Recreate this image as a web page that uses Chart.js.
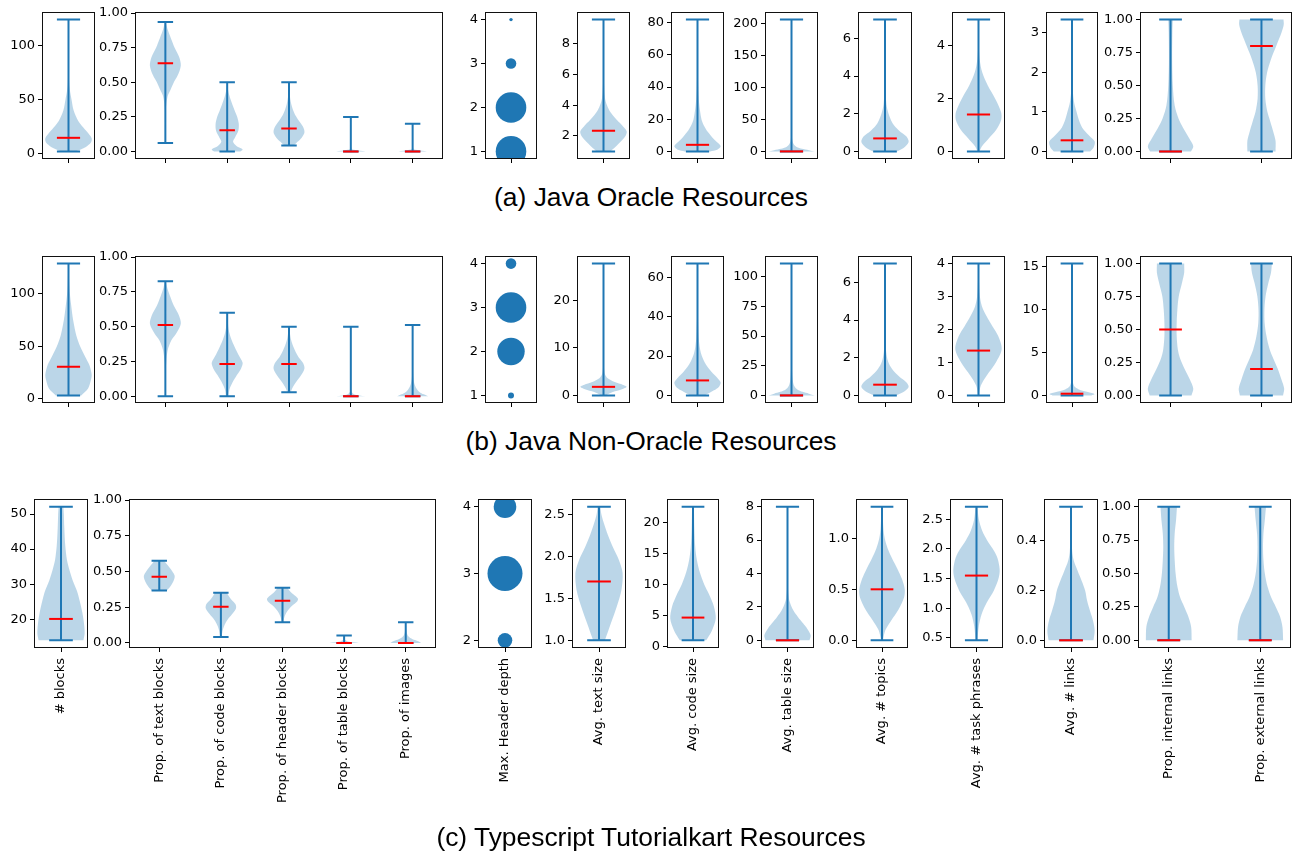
<!DOCTYPE html>
<html><head><meta charset="utf-8">
<script src="https://cdn.jsdelivr.net/npm/chart.js@4.4.1/dist/chart.umd.min.js"></script>
<style>
html,body{margin:0;padding:0;background:#fff;}
body{width:1294px;height:854px;position:relative;overflow:hidden;}
canvas{position:absolute;}
.title{position:absolute;left:4px;width:1294px;text-align:center;font-family:"Liberation Sans",Arial,sans-serif;font-size:26.4px;line-height:26px;color:#000;white-space:nowrap;}
</style></head><body>
<script>
// ---------------- DATA ----------------
const rowTitles = ['(a) Java Oracle Resources', '(b) Java Non-Oracle Resources', '(c) Typescript Tutorialkart Resources'];

const categories = [
  ['# blocks'],
  ['Prop. of text blocks', 'Prop. of code blocks', 'Prop. of header blocks', 'Prop. of table blocks', 'Prop. of images'],
  ['Max. Header depth'],
  ['Avg. text size'],
  ['Avg. code size'],
  ['Avg. table size'],
  ['Avg. # topics'],
  ['Avg. # task phrases'],
  ['Avg. # links'],
  ['Prop. internal links', 'Prop. external links']
];

// violin density profiles: per panel, per violin, [value, relative width] from min to max
const oracleDensity = [
  [[[1.8,0.3],[6,0.75],[10,0.97],[14,1.0],[20,0.8],[25,0.6],[30,0.42],[40,0.22],[50,0.13],[57,0.07],[65,0.03],[80,0.012],[100,0.008],[124,0.005]]],
  [
    [[0.062,0.01],[0.3,0.03],[0.4,0.15],[0.45,0.35],[0.5,0.55],[0.55,0.8],[0.62,1.0],[0.68,0.9],[0.75,0.6],[0.82,0.35],[0.88,0.15],[0.935,0.03]],
    [[0,0.85],[0.015,1.0],[0.04,0.6],[0.07,0.38],[0.1,0.5],[0.15,0.72],[0.2,0.75],[0.25,0.65],[0.3,0.47],[0.35,0.3],[0.4,0.15],[0.45,0.05],[0.5,0.01]],
    [[0.043,0.3],[0.07,0.55],[0.1,0.82],[0.14,1.0],[0.18,0.9],[0.22,0.65],[0.26,0.42],[0.3,0.26],[0.35,0.13],[0.4,0.06],[0.5,0.01]],
    [[0,0.95],[0.005,0.6],[0.012,0.2],[0.02,0.05],[0.05,0.01],[0.25,0.003]],
    [[0,0.92],[0.005,0.6],[0.012,0.2],[0.02,0.05],[0.05,0.01],[0.2,0.003]]
  ],
  null,
  [[[1,0.3],[1.5,0.65],[2,0.95],[2.3,1.0],[2.7,0.8],[3,0.6],[3.5,0.32],[4,0.15],[4.5,0.06],[5.5,0.02],[7,0.01],[9.55,0.005]]],
  [[[0,0.55],[1,0.85],[3,1.0],[5,0.9],[8,0.68],[12,0.45],[16,0.28],[20,0.17],[30,0.07],[40,0.03],[60,0.01],[82,0.005]]],
  [[[0,1.0],[2,0.75],[4,0.45],[7,0.22],[10,0.12],[15,0.05],[25,0.015],[50,0.005],[206,0.002]]],
  [[[0,0.5],[0.2,0.8],[0.5,1.0],[0.8,0.9],[1.1,0.6],[1.5,0.32],[2,0.15],[2.5,0.06],[3.5,0.02],[5,0.01],[7,0.005]]],
  [[[0,0.04],[0.2,0.15],[0.5,0.45],[0.8,0.75],[1.2,0.98],[1.5,0.97],[2,0.72],[2.5,0.4],[3,0.16],[3.5,0.05],[4,0.015],[5,0.005]]],
  [[[0,0.8],[0.1,0.95],[0.25,1.0],[0.4,0.75],[0.6,0.45],[0.8,0.3],[1,0.2],[1.25,0.09],[1.5,0.04],[2,0.015],[3.33,0.005]]],
  [
    [[0,0.9],[0.04,1.0],[0.1,0.82],[0.18,0.55],[0.25,0.35],[0.35,0.18],[0.5,0.1],[0.7,0.07],[0.9,0.08],[1,0.1]],
    [[0,0.62],[0.08,0.62],[0.15,0.52],[0.22,0.4],[0.3,0.26],[0.4,0.17],[0.5,0.17],[0.6,0.25],[0.7,0.42],[0.8,0.65],[0.9,0.88],[0.96,0.98],[1,0.97]]
  ]
];
const oracleMedians = [[14.4],[0.637,0.153,0.167,0,0],null,[2.34],[4.1],[0],[0.69],[1.4],[0.28],[0,0.8]];
const oracleDepthLevels = [1,2,3,4];
const oracleDepthRadius = [15.3,15.3,5.3,1.7];
const oracleYTicks = [['0','50','100'],['0.00','0.25','0.50','0.75','1.00'],['1','2','3','4'],['2','4','6','8'],['0','20','40','60','80'],['0','50','100','150','200'],['0','2','4','6'],['0','2','4'],['0','1','2','3'],['0.00','0.25','0.50','0.75','1.00']];

const nonOracleDensity = [
  [[[3.1,0.55],[10,0.85],[18,0.97],[23,1.0],[32,0.9],[40,0.72],[50,0.5],[60,0.34],[75,0.2],[90,0.11],[100,0.06],[110,0.03],[128.7,0.01]]],
  [
    [[0,0.01],[0.15,0.02],[0.25,0.06],[0.33,0.15],[0.4,0.38],[0.45,0.7],[0.52,1.0],[0.58,0.88],[0.65,0.55],[0.72,0.3],[0.78,0.12],[0.825,0.03]],
    [[0,0.08],[0.05,0.15],[0.1,0.35],[0.15,0.62],[0.2,0.9],[0.24,1.0],[0.3,0.72],[0.35,0.5],[0.4,0.3],[0.45,0.15],[0.5,0.07],[0.6,0.01]],
    [[0.029,0.1],[0.06,0.22],[0.1,0.45],[0.15,0.78],[0.2,1.0],[0.24,0.9],[0.28,0.62],[0.33,0.38],[0.38,0.2],[0.43,0.09],[0.5,0.02]],
    [[0,0.95],[0.006,0.55],[0.015,0.2],[0.03,0.06],[0.06,0.015],[0.5,0.003]],
    [[0,1.0],[0.01,0.8],[0.025,0.5],[0.05,0.28],[0.08,0.14],[0.12,0.06],[0.2,0.02],[0.512,0.005]]
  ],
  null,
  [[[0,0.1],[0.7,0.4],[1.3,0.8],[1.8,1.0],[2.4,0.75],[3,0.4],[3.6,0.18],[4.5,0.06],[6,0.02],[10,0.008],[27.7,0.003]]],
  [[[0,0.3],[2,0.62],[4,0.9],[6.5,1.0],[9,0.85],[12,0.6],[15,0.4],[18,0.26],[21,0.16],[25,0.09],[30,0.05],[40,0.02],[55,0.008],[66.9,0.004]]],
  [[[0,1.0],[1.5,0.75],[3,0.48],[5,0.25],[8,0.12],[12,0.06],[18,0.03],[30,0.01],[111,0.002]]],
  [[[0,0.45],[0.2,0.8],[0.45,1.0],[0.7,0.9],[1,0.6],[1.4,0.3],[1.8,0.13],[2.3,0.05],[3,0.02],[5,0.008],[7,0.004]]],
  [[[0,0.02],[0.3,0.1],[0.6,0.35],[1,0.75],[1.4,1.0],[1.8,0.85],[2.1,0.6],[2.4,0.35],[2.7,0.15],[3,0.06],[3.5,0.02],[4,0.005]]],
  [[[0,0.85],[0.15,1.0],[0.4,0.7],[0.7,0.3],[1,0.12],[1.5,0.04],[2.5,0.015],[5,0.005],[15.3,0.002]]],
  [
    [[0,0.92],[0.05,1.0],[0.12,0.85],[0.2,0.62],[0.28,0.42],[0.35,0.32],[0.45,0.27],[0.55,0.27],[0.65,0.3],[0.75,0.36],[0.85,0.5],[0.93,0.6],[1,0.6]],
    [[0,0.95],[0.05,1.0],[0.12,0.88],[0.2,0.72],[0.28,0.52],[0.35,0.36],[0.45,0.22],[0.55,0.14],[0.65,0.13],[0.75,0.18],[0.85,0.3],[0.93,0.42],[1,0.46]]
  ]
];
const nonOracleMedians = [[30.4],[0.512,0.231,0.231,0,0],null,[1.8],[7.6],[0],[0.57],[1.36],[0.2],[0.5,0.2]];
const nonOracleDepthLevels = [1,2,3,4];
const nonOracleDepthRadius = [3,13.7,15.3,5.3];
const nonOracleYTicks = [['0','50','100'],['0.00','0.25','0.50','0.75','1.00'],['1','2','3','4'],['0','10','20'],['0','20','40','60'],['0','25','50','75','100'],['0','2','4','6'],['0','1','2','3','4'],['0','5','10','15'],['0.00','0.25','0.50','0.75','1.00']];

const tutorialkartDensity = [
  [[[14,0.95],[16,1.0],[19,0.97],[22,0.9],[25,0.8],[28,0.68],[31,0.5],[34,0.36],[37,0.25],[41,0.18],[46,0.14],[50,0.12],[52.1,0.1]]],
  [
    [[0.367,0.5],[0.4,0.75],[0.44,0.95],[0.47,1.0],[0.5,0.85],[0.53,0.65],[0.555,0.45],[0.574,0.3]],
    [[0.042,0.04],[0.08,0.1],[0.12,0.22],[0.16,0.42],[0.2,0.72],[0.24,0.98],[0.27,0.95],[0.3,0.7],[0.33,0.5],[0.351,0.38]],
    [[0.144,0.05],[0.18,0.12],[0.22,0.3],[0.26,0.62],[0.29,0.95],[0.31,1.0],[0.34,0.7],[0.36,0.5],[0.386,0.32]],
    [[0,0.95],[0.004,0.6],[0.01,0.25],[0.02,0.08],[0.035,0.03],[0.051,0.015]],
    [[0,1.0],[0.01,0.85],[0.02,0.6],[0.035,0.3],[0.05,0.14],[0.075,0.06],[0.1,0.03],[0.144,0.01]]
  ],
  null,
  [[[1,0.25],[1.2,0.5],[1.4,0.75],[1.6,0.95],[1.8,1.0],[1.95,0.85],[2.1,0.6],[2.25,0.38],[2.4,0.2],[2.5,0.1],[2.59,0.06]]],
  [[[1.03,0.58],[2.5,0.82],[4.5,1.0],[6.5,0.92],[8.5,0.7],[10,0.5],[12,0.3],[14,0.17],[16,0.1],[19,0.06],[22.6,0.04]]],
  [[[0,0.95],[0.3,1.0],[0.7,0.85],[1,0.68],[1.4,0.45],[1.8,0.25],[2.2,0.12],[2.6,0.05],[3.2,0.02],[5,0.01],[8,0.005]]],
  [[[0,0.04],[0.1,0.15],[0.2,0.42],[0.3,0.72],[0.42,0.97],[0.5,1.0],[0.6,0.88],[0.7,0.68],[0.8,0.45],[0.9,0.25],[1.0,0.12],[1.1,0.06],[1.31,0.02]]],
  [[[0.46,0.04],[0.7,0.1],[0.9,0.22],[1.1,0.45],[1.3,0.75],[1.5,0.95],[1.65,1.0],[1.85,0.9],[2.0,0.7],[2.15,0.45],[2.3,0.25],[2.5,0.1],[2.71,0.04]]],
  [[[0,0.95],[0.04,1.0],[0.08,0.93],[0.12,0.8],[0.16,0.68],[0.2,0.6],[0.24,0.45],[0.28,0.28],[0.32,0.12],[0.36,0.05],[0.45,0.02],[0.538,0.01]]],
  [
    [[0,1.0],[0.1,0.98],[0.18,0.85],[0.25,0.68],[0.32,0.5],[0.4,0.38],[0.5,0.3],[0.6,0.26],[0.7,0.24],[0.8,0.26],[0.9,0.32],[1,0.36]],
    [[0,1.0],[0.1,0.97],[0.18,0.86],[0.25,0.68],[0.32,0.48],[0.4,0.32],[0.5,0.2],[0.6,0.14],[0.7,0.12],[0.8,0.14],[0.9,0.2],[1,0.25]]
  ]
];
const tutorialkartMedians = [[20.1],[0.463,0.253,0.295,0,0],null,[1.70],[4.7],[0],[0.5],[1.55],[0],[0,0]];
const tutorialkartDepthLevels = [2,3,4];
const tutorialkartDepthRadius = [7.3,17.5,11.3];
const tutorialkartYTicks = [['20','30','40','50'],['0.00','0.25','0.50','0.75','1.00'],['2','3','4'],['1.0','1.5','2.0','2.5'],['0','5','10','15','20'],['0','2','4','6','8'],['0.0','0.5','1.0'],['0.5','1.0','1.5','2.0','2.5'],['0.0','0.2','0.4'],['0.00','0.25','0.50','0.75','1.00']];

// ---------------- LAYOUT / STYLE ----------------
const rows = [
  {density: oracleDensity, medians: oracleMedians, levels: oracleDepthLevels, radius: oracleDepthRadius, yTicks: oracleYTicks},
  {density: nonOracleDensity, medians: nonOracleMedians, levels: nonOracleDepthLevels, radius: nonOracleDepthRadius, yTicks: nonOracleYTicks},
  {density: tutorialkartDensity, medians: tutorialkartMedians, levels: tutorialkartDepthLevels, radius: tutorialkartDepthRadius, yTicks: tutorialkartYTicks}
];
const rowBoxY = [[13,158],[257,402],[500,647]];
const colsAB = [[43,94],[136,442],[486,536],[578,629],[672,723],[766,817],[859,911],[953,1004],[1047,1097],[1141,1291]];
const colsC = [[35,87],[130,435],[479,531],[573,625],[668,718],[762,813],[857,907],[951,1002],[1045,1097],[1139,1290]];
const rowBoxX = [colsAB, colsAB, colsC];
const titleTops = [184, 428, 824];

const C0 = '#1f77b4';
const BODY = 'rgba(31,119,180,0.3)';
const TICK_FONT = {family: 'DejaVu Sans', size: 13};

const framePlugin = {
  id: 'frame',
  afterDraw(chart) {
    const a = chart.chartArea, ctx = chart.ctx;
    ctx.save();
    ctx.strokeStyle = '#111';
    ctx.lineWidth = 1;
    ctx.strokeRect(a.left - 0.5, a.top - 0.5, a.right - a.left + 1, a.bottom - a.top + 1);
    ctx.restore();
  }
};

function violinDatasets(profiles, medians) {
  const ds = [];
  const lines = [], meds = [];
  profiles.forEach((prof, i) => {
    const p = i + 1;
    const right = prof.map(([y, w]) => ({x: p + 0.25 * w, y}));
    const left = prof.slice().reverse().map(([y, w]) => ({x: p - 0.25 * w, y}));
    const rt = right[right.length - 1], lt = left[0];
    const pts = [...right, {x: rt.x, y: rt.y}, {x: lt.x, y: lt.y}, ...left];
    ds.push({type: 'line', data: pts, backgroundColor: BODY, borderColor: 'rgba(0,0,0,0)', borderWidth: 0,
      fill: 'shape', tension: 0.3, pointRadius: 0, order: 2});
    const mn = prof[0][0], mx = prof[prof.length - 1][0];
    lines.push({x: p - 0.125, y: mn}, {x: p + 0.125, y: mn}, {x: p, y: null},
               {x: p, y: mn}, {x: p, y: mx}, {x: p, y: null},
               {x: p - 0.125, y: mx}, {x: p + 0.125, y: mx}, {x: p, y: null});
    meds.push({x: p - 0.125, y: medians[i]}, {x: p + 0.125, y: medians[i]}, {x: p, y: null});
  });
  ds.push({type: 'line', data: lines, borderColor: C0, borderWidth: 2, fill: false, tension: 0, pointRadius: 0, spanGaps: false, order: 1});
  ds.push({type: 'line', data: meds, borderColor: '#ff0000', borderWidth: 2, fill: false, tension: 0, pointRadius: 0, spanGaps: false, order: 0});
  return ds;
}

function makePanel(r, c) {
  const row = rows[r];
  const cats = categories[c];
  const n = cats.length;
  const [x0, x1] = rowBoxX[r][c];
  const [y0, y1] = rowBoxY[r];
  const ML = 62, MT = 10, MR = 6, MB = (r === 2) ? 200 : 20;
  const W = x1 - x0 + ML + MR, H = y1 - y0 + MT + MB;
  const cv = document.createElement('canvas');
  cv.width = W; cv.height = H;
  cv.style.left = (x0 - ML) + 'px'; cv.style.top = (y0 - MT) + 'px';
  cv.style.width = W + 'px'; cv.style.height = H + 'px';
  document.body.appendChild(cv);

  let datasets, dmin, dmax, type;
  if (row.density[c]) {
    type = 'line';
    datasets = violinDatasets(row.density[c], row.medians[c]);
    const all = row.density[c].flat().map(d => d[0]);
    dmin = Math.min(...all); dmax = Math.max(...all);
  } else {
    type = 'bubble';
    datasets = [{data: row.levels.map((v, i) => ({x: 1, y: v, r: row.radius[i]})), backgroundColor: C0, borderWidth: 0, clip: 0}];
    dmin = Math.min(...row.levels); dmax = Math.max(...row.levels);
  }
  const span = dmax - dmin;
  const ymin = dmin - 0.05 * span;
  const ymax = (c === 1) ? 1 : dmax + 0.05 * span;
  const xspan = (n - 1) + 0.5;
  const xmin = 0.75 - 0.05 * xspan, xmax = n + 0.25 + 0.05 * xspan;
  const yLabels = row.yTicks[c];
  const yVals = yLabels.map(parseFloat);
  const xVals = cats.map((_, i) => i + 1);

  new Chart(cv, {
    type,
    data: {datasets},
    options: {
      responsive: false, animation: false, events: [],
      layout: {autoPadding: false, padding: {top: MT, right: MR, left: 0, bottom: 0}},
      plugins: {legend: {display: false}, tooltip: {enabled: false}, title: {display: false}},
      scales: {
        x: {
          type: 'linear', min: xmin, max: xmax,
          afterBuildTicks: s => { s.ticks = xVals.map(v => ({value: v})); },
          afterFit: s => { s.height = MB; s.paddingLeft = 0; s.paddingRight = 0; },
          ticks: {
            autoSkip: false, font: TICK_FONT, color: '#000', padding: 6,
            minRotation: r === 2 ? 90 : 0, maxRotation: r === 2 ? 90 : 0,
            callback: (v, i) => (r === 2 ? cats[i] : '')
          },
          grid: {display: true, drawOnChartArea: false, drawTicks: true, tickLength: 5, color: '#000', lineWidth: 1},
          border: {display: false}
        },
        y: {
          type: 'linear', min: ymin, max: ymax,
          afterBuildTicks: s => { s.ticks = yVals.map(v => ({value: v})); },
          afterFit: s => { s.width = ML; s.paddingTop = 0; s.paddingBottom = 0; },
          ticks: {autoSkip: false, font: TICK_FONT, color: '#000', padding: 3, callback: (v, i) => yLabels[i]},
          grid: {display: true, drawOnChartArea: false, drawTicks: true, tickLength: 5, color: '#000', lineWidth: 1},
          border: {display: false}
        }
      }
    },
    plugins: [framePlugin]
  });
}

for (let r = 0; r < 3; r++) {
  for (let c = 0; c < categories.length; c++) makePanel(r, c);
  const t = document.createElement('div');
  t.className = 'title';
  t.style.top = titleTops[r] + 'px';
  t.textContent = rowTitles[r];
  document.body.appendChild(t);
}
</script>
</body></html>
